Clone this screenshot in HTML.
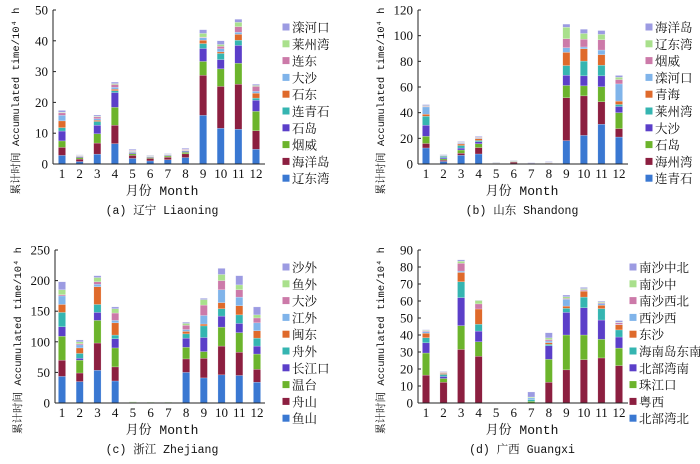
<!DOCTYPE html>
<html><head><meta charset="utf-8"><style>
html,body{margin:0;padding:0;background:#fff}
svg text{font-family:"Liberation Serif","Noto Serif CJK SC",serif;fill:#111}
.mono{font-family:"Liberation Mono","Noto Serif CJK SC",monospace}
</style></head><body>
<svg id="chart" width="700" height="459" viewBox="0 0 700 459" xmlns="http://www.w3.org/2000/svg"></svg>
<script>
const months = ["1","2","3","4","5","6","7","8","9","10","11","12"];
const colors = ["#3a78d2","#8c1f40","#6cb42c","#5b3fc9","#35b5b1","#df6a2b","#80b4ea","#cc7aa9","#a9e08c","#9c9be2"];

const liaoningNames = ["辽东湾","海洋岛","烟威","石岛","连青石","石东","大沙","连东","莱州湾","滦河口"];
const liaoningValues = [
 [2.8,0.8,3.2,6.6,1.8,1.0,1.4,2.1,15.8,11.6,11.3,4.8],
 [2.6,0.8,3.6,6.0,1.0,0.8,0.8,1.2,13.0,13.6,14.6,6.0],
 [2.1,0.5,3.0,5.8,0.5,0.3,0.4,0.5,4.5,5.7,6.8,6.3],
 [3.2,0.3,2.8,4.8,0.3,0.2,0.2,0.3,4.2,3.0,5.8,3.6],
 [1.1,0.1,1.2,0.6,0.2,0.1,0.1,0.2,1.6,2.0,1.7,0.7],
 [2.2,0.1,0.4,0.5,0.2,0.1,0.1,0.1,1.1,0.5,1.9,1.6],
 [1.8,0.1,0.5,0.6,0.2,0.1,0.1,0.1,0.8,1.0,0.7,0.6],
 [0.8,0.1,0.6,0.9,0.2,0.1,0.1,0.2,0.2,0.8,1.8,1.6],
 [0.2,0.1,0.2,0.3,0.1,0.05,0.05,0.1,1.2,0.6,1.4,0.3],
 [0.6,0.1,0.4,0.5,0.3,0.15,0.15,0.3,1.2,1.2,1.0,0.4]];
const liaoningTicks = [0,10,20,30,40,50];

const shandongNames = ["连青石","海州湾","石岛","大沙","莱州湾","青海","滦河口","烟威","辽东湾","海洋岛"];
const shandongValues = [
 [12.5,2,6.8,7.8,0.3,0.3,0,0.3,18.2,22.3,31,21],
 [3.5,1,1.6,5,0.1,1.2,0,0.1,33.4,30.8,17.5,6.6],
 [5.6,1,2.5,3,0.1,0.5,0,0.1,9.6,7.8,11.7,12.4],
 [8.6,1,1.5,1.5,0.1,0.1,0,0.1,8,7.8,8.5,4.8],
 [7,1,2,1,0.1,0.1,0,0.1,7.5,11.5,8.3,1.6],
 [1.6,0.3,1.2,1.5,0.1,0.1,0,0.1,10.3,9.6,8.2,2.6],
 [5.7,0.5,0.5,0.5,0.1,0.1,0,0.3,3.6,1.4,3.6,13.4],
 [0.5,0.2,0.5,0.5,0.1,0.1,0.5,0.2,7,6,8,3.4],
 [0.5,0.3,0.3,0.3,0.1,0.2,0,0.1,9,4.5,4.2,1.8],
 [0.8,0.2,0.6,0.6,0.3,0.3,0.5,0.5,2.4,3.3,3,1.4]];
const shandongTicks = [0,20,40,60,80,100,120];

const zhejiangNames = ["鱼山","舟山","温台","长江口","舟外","闽东","江外","大沙","鱼外","沙外"];
const zhejiangValues = [
 [43.5,35,53.5,36,0,0,0,50,41,46,45,34],
 [26.5,14,44.5,23,0,0,0,22,32,47,38,21],
 [39,21,37,31,1,1,1,19,11,31,32,25],
 [15.5,3,13,15,0,0,0,15,23,18,15,13],
 [23.5,8,13,6,0,0,0,7,19,12,14,13],
 [13,9,29,20,0,0,0,4,3,10,15,12],
 [14,5,4,4,0,0,0,3,14,21,14,13],
 [2,2,4,12,0,0,0,7,17,15,12,8],
 [8,3,7,7,1,0.5,0.5,3,9,10,8,5],
 [13,3,3,3,0,0,0,2,2,10,15,13]];
const zhejiangTicks = [0,50,100,150,200,250];

const guangxiNames = ["北部湾北","粤西","珠江口","北部湾南","海南岛东南","东沙","西沙西","南沙西北","南沙中","南沙中北"];
const guangxiValues = [
 [0,0,0,0,0,0,0,0,0,0,0,0],
 [16.4,12.2,31.5,27.5,0,0,0,12.2,19.5,25.5,26.5,22],
 [13,2.2,14,8.5,0,0,1,13.5,20.5,14.5,11,10.3],
 [6,1.2,16.5,6.3,0,0,0,8,13.3,16,11.3,6.5],
 [3,1.2,9.3,4,0,0,1,0.8,2.4,6.3,6.7,4.2],
 [2.6,0.6,5.5,9,0,0,0,1,1.3,3.5,2,3],
 [1,0.3,0.8,0,0,0,1,1,4,0.3,1,0.2],
 [0.4,0.4,4.6,3,0,0,0,0.8,0.5,0.6,0.5,1],
 [0.4,0.3,1.2,2,0,0,0.5,1,1,0.6,0.5,0.3],
 [0.3,0.3,0.8,0.2,0,0,3,3,1,0.7,0.5,1]];
const guangxiTicks = [0,10,20,30,40,50,60,70,80,90];

const panels = [
 {id:"liaoning",names:liaoningNames,values:liaoningValues,ticks:liaoningTicks,ax:53,x1:62,x12:256,y0:164,yTop:10,xEnd:265,legX:286,legY:27,cap:"(a) 辽宁 Liaoning",capX:162},
 {id:"shandong",names:shandongNames,values:shandongValues,ticks:shandongTicks,ax:418,x1:426,x12:619,y0:164,yTop:10,xEnd:628,legX:649,legY:27,cap:"(b) 山东 Shandong",capX:522},
 {id:"zhejiang",names:zhejiangNames,values:zhejiangValues,ticks:zhejiangTicks,ax:55,x1:62,x12:257,y0:403,yTop:250,xEnd:265,legX:286,legY:267,cap:"(c) 浙江 Zhejiang",capX:162},
 {id:"guangxi",names:guangxiNames,values:guangxiValues,ticks:guangxiTicks,ax:418,x1:426,x12:619,y0:403,yTop:250,xEnd:628,legX:633,legY:267,cap:"(d) 广西 Guangxi",capX:522}
];

const NS="http://www.w3.org/2000/svg";
const svg=document.getElementById('chart');
function mk(tag,attrs,parent){const e=document.createElementNS(NS,tag);for(const k in attrs)e.setAttribute(k,attrs[k]);(parent||svg).appendChild(e);return e;}

panels.forEach(p=>{
  const g=mk('g',{});
  
  
  const maxV=p.ticks[p.ticks.length-1];
  const yS=v=>p.y0-(v/maxV)*(p.y0-p.yTop);
  const xS=i=>p.x1+i*(p.x12-p.x1)/(months.length-1);
  months.forEach((m,i)=>{
    let acc=0;
    p.values.forEach((ser,s)=>{
      const v=ser[i]; if(!v) return;
      const yA=yS(acc), yB=yS(acc+v); acc+=v;
      const r=mk('rect',{x:xS(i)-3.6,y:yB,width:7.2,height:Math.max(0.3,yA-yB),fill:colors[s],stroke:"rgba(255,255,255,0.55)","stroke-width":0.4},g);
      
      
    });
  });
  const ya=mk('line',{x1:p.ax,y1:p.yTop,x2:p.ax,y2:p.y0,stroke:"#222","stroke-width":1},g);
  
  
  const xa=mk('line',{x1:p.ax,y1:p.y0,x2:p.xEnd,y2:p.y0,stroke:"#222","stroke-width":1},g);
  
  
  p.ticks.forEach(t=>{
    const y=yS(t);
    mk('line',{x1:p.ax,y1:y,x2:p.ax+3,y2:y,stroke:"#222","stroke-width":1},g);
    const tx=mk('text',{x:p.ax-5,y:y+4.5,"text-anchor":"end","font-size":13},g);
    tx.textContent=t;
    
    
  });
  months.forEach((m,i)=>{
    const tx=mk('text',{x:xS(i),y:p.y0+14,"text-anchor":"middle","font-size":13},g);
    tx.textContent=m;
    
    
  });
  const xt=mk('text',{x:p.capX,y:p.y0+31,"text-anchor":"middle","font-size":13,class:"mono"},g);
  xt.textContent="月份 Month";
  
  
  const cp=mk('text',{x:p.capX,y:p.y0+50,"text-anchor":"middle","font-size":11.5,class:"mono"},g);
  cp.textContent=p.cap;
  
  
  const yc=(p.y0+p.yTop)/2+14, yx=p.ax-34;
  const yt=mk('text',{x:yx,y:yc,"text-anchor":"middle","font-size":10.5,class:"mono",transform:`rotate(-90 ${yx} ${yc})`},g);
  yt.textContent="累计时间 Accumulated time/10⁴ h";
  
  
  for(let k=0;k<10;k++){
    const s=9-k, y=p.legY+k*16.8;
    const lr=mk('rect',{x:p.legX-3.5,y:y-3.5,width:7,height:7,fill:colors[s]},g);
    
    
    const lt=mk('text',{x:p.legX+6,y:y+5,"font-size":12.5},g);
    lt.textContent=p.names[s];
    
    
  }
});
</script>
</body></html>
